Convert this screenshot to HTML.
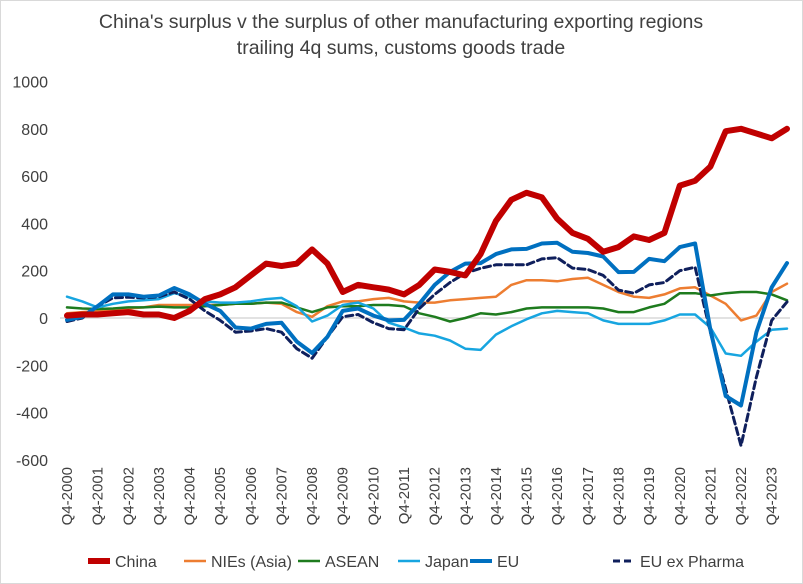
<!DOCTYPE html>
<html><head><meta charset="utf-8"><style>
html,body{margin:0;padding:0;background:#fff;}
svg{display:block;font-family:"Liberation Sans",sans-serif;}
</style></head><body>
<svg id="chart" width="803" height="584" viewBox="0 0 803 584">
<rect x="0.5" y="0.5" width="802" height="583" fill="#fff" stroke="#d9d9d9"/>
<text x="401" y="28" text-anchor="middle" font-size="19.5" fill="#404040">China's surplus v the surplus of other manufacturing exporting regions</text>
<text x="401" y="54" text-anchor="middle" font-size="19.5" fill="#404040">trailing 4q sums, customs goods trade</text>
<g id="yaxis"></g>
<g id="xaxis"></g>
<g id="series"></g>
<g id="legend"></g>
</svg>
<script>
// half-year points starting Q4-2000 (index k => quarter 2k)
const yTicks = [1000,800,600,400,200,0,-200,-400,-600];
const xLabels = ["Q4-2000","Q4-2001","Q4-2002","Q4-2003","Q4-2004","Q4-2005","Q4-2006","Q4-2007","Q4-2008","Q4-2009","Q4-2010","Q4-2011","Q4-2012","Q4-2013","Q4-2014","Q4-2015","Q4-2016","Q4-2017","Q4-2018","Q4-2019","Q4-2020","Q4-2021","Q4-2022","Q4-2023"];
const china = [10,15,15,20,25,15,15,0,30,80,100,130,180,230,220,230,290,230,110,140,130,120,100,140,205,195,180,270,410,500,530,510,420,360,335,280,300,345,330,360,560,580,640,790,800,780,760,800];
const nies = [20,25,30,35,40,45,55,55,55,55,55,60,60,65,60,25,5,50,70,70,80,85,70,65,65,75,80,85,90,140,160,160,155,165,170,140,110,90,85,100,125,130,95,60,-10,10,110,145];
const asean = [45,40,38,40,45,45,48,45,45,50,55,60,60,65,65,45,25,45,50,50,55,55,50,20,5,-15,0,20,15,25,40,45,45,45,45,40,25,25,45,60,105,105,95,105,110,110,100,75];
const japan = [90,70,45,60,70,75,80,105,90,70,65,65,70,80,85,50,-15,10,55,65,40,-20,-40,-65,-75,-95,-130,-135,-70,-35,-5,20,30,25,20,-10,-25,-25,-25,-10,15,15,-40,-150,-160,-100,-50,-45];
const eu = [-8,5,50,100,100,90,95,127,100,60,30,-40,-45,-25,-20,-100,-148,-80,30,40,10,-10,-8,60,140,195,230,232,270,290,292,315,318,280,275,260,194,195,250,240,300,315,-50,-330,-370,-60,130,232];
const euExPharma = [-15,0,50,85,88,85,90,110,80,30,-10,-60,-55,-45,-60,-130,-170,-80,5,15,-20,-45,-50,40,100,150,190,210,225,225,225,250,255,211,205,180,118,105,140,150,200,215,-60,-300,-540,-250,-10,68];

const NS="http://www.w3.org/2000/svg";
const x0=67, x1=787, nPts=china.length;
function xScale(k){return x0+k*(x1-x0)/(nPts-1);}
function yScale(v){return 318-v*47.3/200;}
function mk(tag,attrs,parent){const e=document.createElementNS(NS,tag);for(const a in attrs)e.setAttribute(a,attrs[a]);parent.appendChild(e);return e;}
const yax=document.getElementById('yaxis');
yTicks.forEach(t=>{
  const tx=mk('text',{x:48,y:yScale(t)+6,'text-anchor':'end','font-size':16,fill:'#404040'},yax);
  tx.textContent=t;
  
  
});
const zl=mk('line',{x1:60,x2:790,y1:yScale(0),y2:yScale(0),stroke:'#d9d9d9','stroke-width':1.5},yax);


const xax=document.getElementById('xaxis');
xLabels.forEach((l,i)=>{
  const x=xScale(i*2)+5;
  const tx=mk('text',{x:0,y:0,'text-anchor':'end','font-size':15,fill:'#404040',transform:`translate(${x},467) rotate(-90)`},xax);
  tx.textContent=l;
  
  
});
const ser=[
 {d:nies,c:'#ed7d31',w:2.5,n:'series-nies',dash:null},
 {d:asean,c:'#1e7b1e',w:2.5,n:'series-asean',dash:null},
 {d:japan,c:'#17a5e0',w:2.5,n:'series-japan',dash:null},
 {d:euExPharma,c:'#0f1f5c',w:3,n:'series-eu-ex-pharma',dash:'7 4'},
 {d:eu,c:'#0070c0',w:4,n:'series-eu',dash:null},
 {d:china,c:'#c00000',w:6,n:'series-china',dash:null}
];
const sg=document.getElementById('series');
ser.forEach(s=>{
  const p=s.d.map((v,k)=>(k?'L':'M')+xScale(k).toFixed(1)+','+yScale(v).toFixed(1)).join('');
  const a={d:p,fill:'none',stroke:s.c,'stroke-width':s.w,'stroke-linejoin':'round','stroke-linecap':'round'};
  if(s.dash)a['stroke-dasharray']=s.dash;
  const e=mk('path',a,sg);
  
  
});
const leg=[
 {t:'China',c:'#c00000',w:6,x:88,dash:null,n:'legend-china'},
 {t:'NIEs (Asia)',c:'#ed7d31',w:2.5,x:184,dash:null,n:'legend-nies'},
 {t:'ASEAN',c:'#1e7b1e',w:2.5,x:298,dash:null,n:'legend-asean'},
 {t:'Japan',c:'#17a5e0',w:2.5,x:398,dash:null,n:'legend-japan'},
 {t:'EU',c:'#0070c0',w:4,x:470,dash:null,n:'legend-eu'},
 {t:'EU ex Pharma',c:'#0f1f5c',w:3,x:613,dash:'7 4',n:'legend-eu-ex-pharma'}
];
const lg=document.getElementById('legend');
leg.forEach(l=>{
  const g=mk('g',{},lg);
  
  
  const a={x1:l.x,x2:l.x+22,y1:561,y2:561,stroke:l.c,'stroke-width':l.w};
  if(l.dash)a['stroke-dasharray']=l.dash;
  mk('line',a,g);
  const tx=mk('text',{x:l.x+27,y:567,'font-size':16,fill:'#404040'},g);
  tx.textContent=l.t;
});
</script>
</body></html>
